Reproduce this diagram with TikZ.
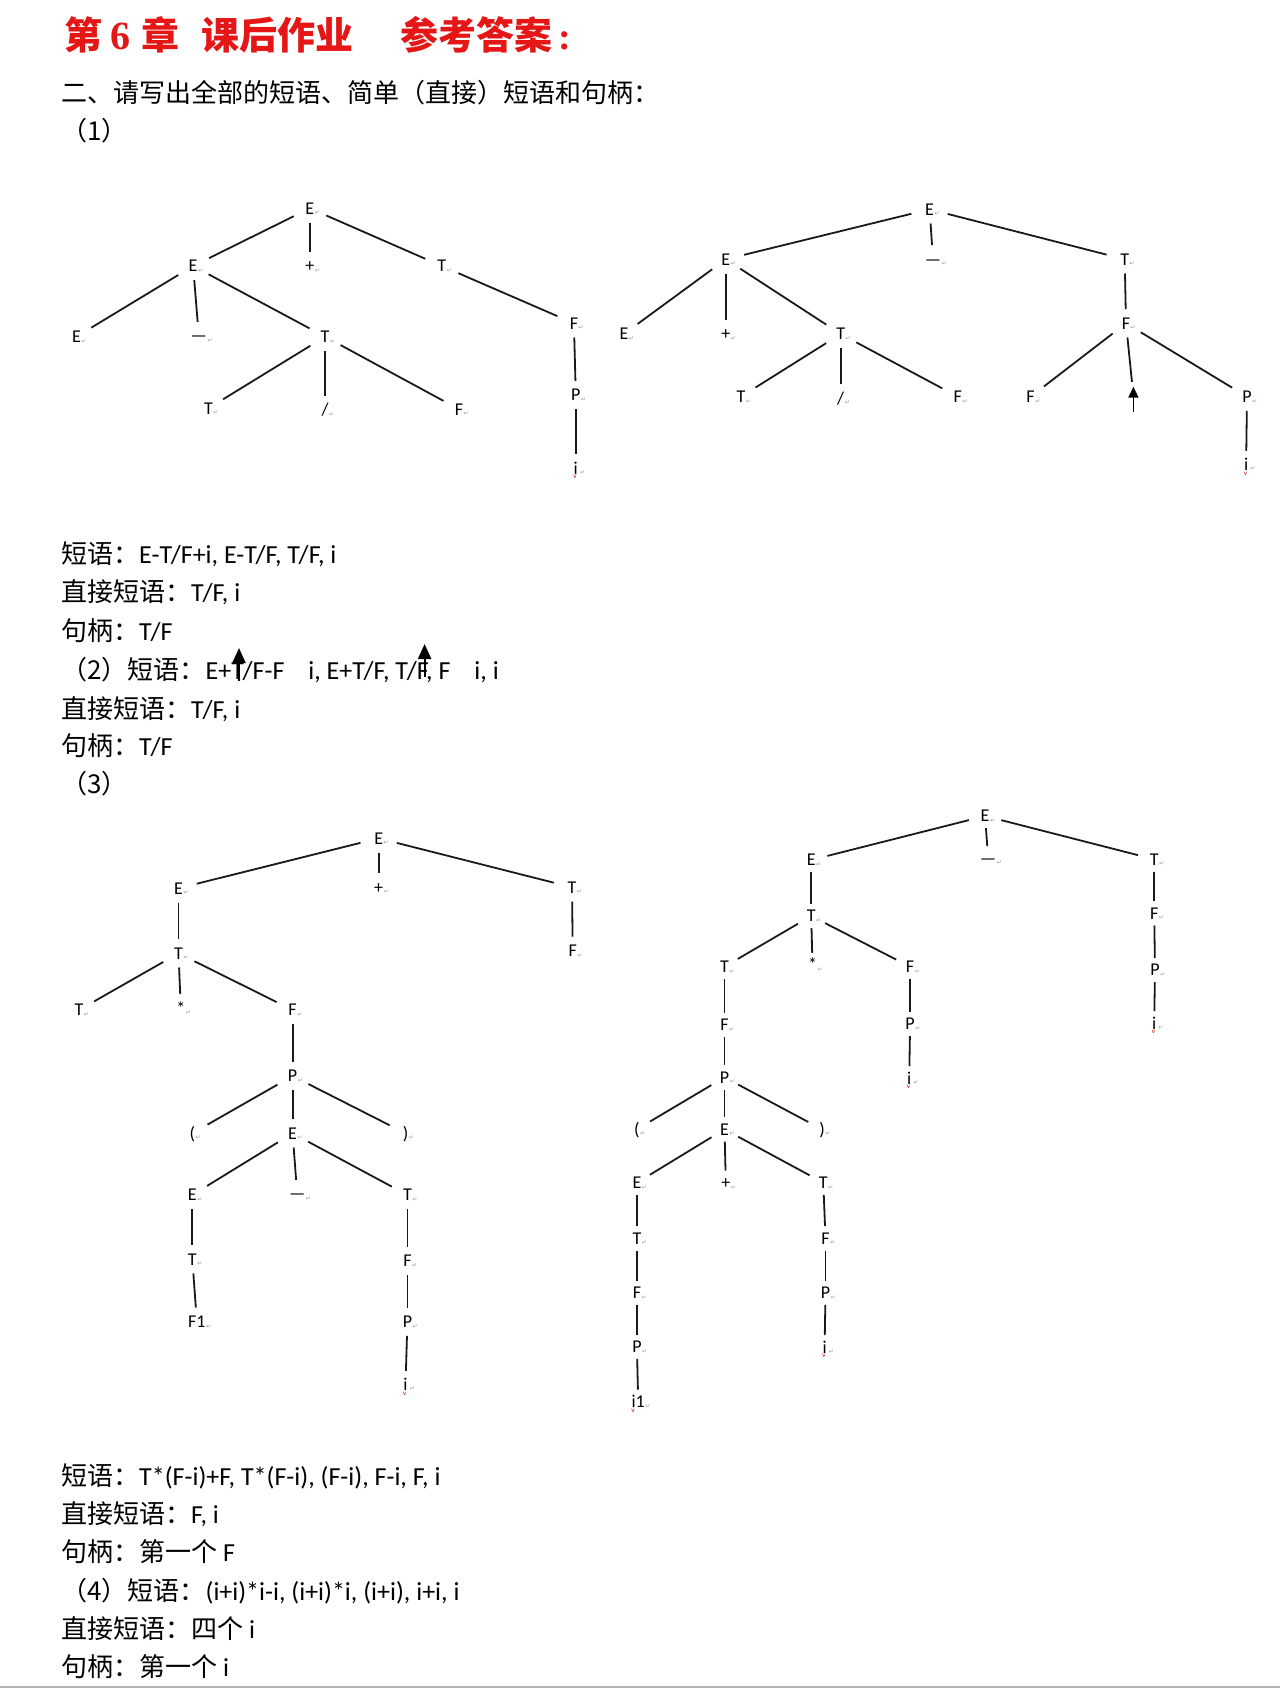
\documentclass[tikz,border=0pt]{standalone}
\usepackage{fontspec}
\setmainfont{Carlito}
\newfontfamily\cjk{Noto Sans CJK SC}
\newfontfamily\retfont{DejaVu Sans}
\newfontfamily\ttlserif{Liberation Serif}
\usetikzlibrary{arrows.meta,shapes.geometric}
\definecolor{ttlred}{RGB}{228,22,22}
\newcommand{\retmk}{\rlap{\hspace{0.6pt}\raisebox{-0.5pt}{\retfont\fontsize{6}{6}\selectfont\color{black!40}↵}}}
\newcommand{\iretmk}{\rlap{\hspace{2.2pt}\raisebox{0pt}{\retfont\fontsize{6}{6}\selectfont\color{black!40}↵}}}
\newcommand{\redv}{\rlap{\hspace{-4.4pt}\raisebox{-4.5pt}{\fontsize{7}{7}\selectfont\color{red!80!black}v}}}
\begin{document}
\begin{tikzpicture}[x=1pt,y=-1pt,
  tl/.style={ellipse,minimum width=38pt,minimum height=28pt,inner sep=0pt,font=\fontsize{18}{18}\selectfont,text height=11.6pt,text depth=0pt},
  tls/.style={tl,minimum width=34pt,minimum height=24pt},
  ed/.style={line width=1.8pt,color=black!90},
  txt/.style={anchor=base west,inner sep=0pt,font=\fontsize{26}{30}\selectfont},
  ttl/.style={anchor=base west,inner sep=0pt,text=ttlred,font=\fontsize{38}{40}\selectfont\bfseries},
  upar/.style={line width=1.7pt,-{Triangle[length=11pt,width=10pt]}},
  uparb/.style={line width=2.2pt,-{Triangle[length=15pt,width=13pt]}},
]
\fill[white] (0,0) rectangle (1280,1689);
\useasboundingbox (0,0) rectangle (1280,1689);
\draw[black!30,line width=2pt] (0,1687) -- (1280,1687);

% ---------- title ----------
\node[ttl] (t1) at (64,49) {\cjk 第};
\node[ttl,font=\fontsize{40}{40}\selectfont\bfseries] (t2) at (110,49) {\ttlserif 6};
\node[ttl] (t3) at (141,49) {\cjk 章};
\node[ttl] (t4) at (201,49) {\cjk 课后作业};
\node[ttl] (t5) at (400,49) {\cjk 参考答案\ttlserif\hspace{6pt}:};

% ---------- text lines ----------
\node[txt] (l1) at (61,102) {\cjk 二、请写出全部的短语、简单（直接）短语和句柄：};
\node[txt] (l2) at (61,140.5) {\cjk （1）};
\node[txt] (l3) at (61,563) {{\cjk 短语：}E-T/F+i, E-T/F, T/F, i};
\node[txt] (l4) at (61,601.6) {{\cjk 直接短语：}T/F, i};
\node[txt] (l5) at (61,640.4) {{\cjk 句柄：}T/F};
\node[txt] (l6) at (61,679) {{\cjk （2）短语：}E+T/F-F\hspace{24pt}i, E+T/F, T/F, F\hspace{24pt}i, i};
\node[txt] (l7) at (61,718) {{\cjk 直接短语：}T/F, i};
\node[txt] (l8) at (61,755.6) {{\cjk 句柄：}T/F};
\node[txt] (l9) at (61,793.3) {\cjk （3）};
\node[txt] (l10) at (61,1485) {{\cjk 短语：}T*(F-i)+F, T*(F-i), (F-i), F-i, F, i};
\node[txt] (l11) at (61,1523.8) {{\cjk 直接短语：}F, i};
\node[txt] (l12) at (61,1561.5) {{\cjk 句柄：第一个} F};
\node[txt] (l13) at (61,1600.3) {{\cjk （4）短语：}(i+i)*i-i, (i+i)*i, (i+i), i+i, i};
\node[txt] (l14) at (61,1638) {{\cjk 直接短语：四个} i};
\node[txt] (l15) at (61,1676.8) {{\cjk 句柄：第一个} i};

\coordinate (ua1) at (239,681); \coordinate (ub1) at (239,648);
\coordinate (ua2) at (424.6,677); \coordinate (ub2) at (424.6,644);
\draw[uparb] (ua1) -- (ub1);
\draw[uparb] (ua2) -- (ub2);

% ---------- tree 1 ----------
\node[tl] (a0) at (309.8,208.3) {E\retmk};
\node[tl] (a1) at (193.1,266) {E\retmk};
\node[tl] (a2) at (309.8,266) {+\retmk};
\node[tl] (a3) at (441.8,266) {T\retmk};
\node[tl] (a4) at (76.4,336.7) {E\retmk};
\node[tl] (a5) at (198.8,336) {—\retmk};
\node[tl] (a6) at (325.1,336.7) {T\retmk};
\node[tl] (a7) at (573.9,323.3) {F\retmk};
\node[tl] (a8) at (208.4,408.3) {T\retmk};
\node[tl] (a9) at (325.1,410) {/\retmk};
\node[tl] (a10) at (459,409.3) {F\retmk};
\node[tl] (a11) at (575.8,395) {P\retmk};
\node[tl] (a12) at (575.8,468.3) {i\redv\iretmk};
\foreach \u/\v in {a0/a1,a0/a2,a0/a3,a1/a4,a1/a5,a1/a6,a3/a7,a6/a8,a6/a9,a6/a10,a7/a11,a11/a12}
  \draw[ed] (\u) -- (\v);

% ---------- tree 2 ----------
\node[tl] (b0) at (929.6,209.3) {E\retmk};
\node[tl] (b1) at (725.8,259.3) {E\retmk};
\node[tl] (b2) at (933,259.3) {—\retmk};
\node[tl] (b3) at (1124.7,259.3) {T\retmk};
\node[tl] (b4) at (623.9,334) {E\retmk};
\node[tl] (b5) at (725.8,334) {+\retmk};
\node[tl] (b6) at (840.7,334) {T\retmk};
\node[tl] (b7) at (1126,323.3) {F\retmk};
\node[tl] (b8) at (740.9,396.7) {T\retmk};
\node[tl] (b9) at (840.7,398.3) {/\retmk};
\node[tl] (b10) at (957.8,396.7) {F\retmk};
\node[tl] (b11) at (1030.6,396.7) {F\retmk};
\node[tl] (b12) at (1133.4,396) {};
\node[tl] (b13) at (1247,396.7) {P\retmk};
\node[tl] (b14) at (1246.1,465) {i\redv\iretmk};
\coordinate (ua3) at (1133.4,411.7); \coordinate (ub3) at (1133.4,386.7);
\draw[upar] (ua3) -- (ub3);
\foreach \u/\v in {b0/b1,b0/b2,b0/b3,b3/b7,b1/b4,b1/b5,b1/b6,b6/b8,b6/b9,b6/b10,b7/b11,b7/b12,b7/b13,b13/b14}
  \draw[ed] (\u) -- (\v);

% ---------- tree 3 ----------
\node[tl] (c0) at (378.7,838.3) {E\retmk};
\node[tl] (c1) at (178.5,888.3) {E\retmk};
\node[tl] (c2) at (378.7,887.3) {+\retmk};
\node[tl] (c3) at (572,887.3) {T\retmk};
\node[tl] (c4) at (572.7,950.7) {F\retmk};
\node[tl] (c5) at (178.5,953.3) {T\retmk};
\node[tl] (c6) at (79,1010) {T\retmk};
\node[tl] (c7) at (180.8,1008.3) {*\retmk};
\node[tl] (c8) at (292.6,1010) {F\retmk};
\node[tl] (c9) at (292.6,1076) {P\retmk};
\node[tl] (c10) at (192.3,1133.3) {(\retmk};
\node[tl] (c11) at (292.6,1133.3) {E\retmk};
\node[tl] (c12) at (405.5,1133.3) {)\retmk};
\node[tl] (c13) at (192.3,1195) {E\retmk};
\node[tl] (c14) at (297.2,1194) {—\retmk};
\node[tl] (c15) at (407.4,1195) {T\retmk};
\node[tl] (c16) at (192.3,1259.3) {T\retmk};
\node[tl] (c17) at (407.4,1260.7) {F\retmk};
\node[tl] (c18) at (196.9,1321.7) {F1\retmk};
\node[tl] (c19) at (407.4,1321.7) {P\retmk};
\node[tl] (c20) at (405.5,1385) {i\redv\iretmk};
\foreach \u/\v in {c0/c1,c0/c2,c0/c3,c3/c4,c1/c5,c5/c6,c5/c7,c5/c8,c8/c9,c9/c10,c9/c11,c9/c12,c11/c13,c11/c14,c11/c15,c13/c16,c16/c18,c15/c17,c17/c19,c19/c20}
  \draw[ed] (\u) -- (\v);

% ---------- tree 4 ----------
\node[tls] (d0) at (985.1,816) {E\retmk};
\node[tls] (d1) at (811.2,860) {E\retmk};
\node[tls] (d2) at (988.1,858.3) {—\retmk};
\node[tls] (d3) at (1154.2,859.3) {T\retmk};
\node[tls] (d4) at (811.2,916) {T\retmk};
\node[tls] (d5) at (1154.2,913.3) {F\retmk};
\node[tls] (d6) at (724.5,966.7) {T\retmk};
\node[tls] (d7) at (812.5,965) {*\retmk};
\node[tls] (d8) at (910.1,966.7) {F\retmk};
\node[tls] (d9) at (1155,970) {P\retmk};
\node[tls] (d10) at (724.5,1025) {F\retmk};
\node[tls] (d11) at (910.1,1024) {P\retmk};
\node[tls] (d12) at (1154.2,1023.3) {i\redv\iretmk};
\node[tls] (d13) at (724.5,1077.3) {P\retmk};
\node[tls] (d14) at (909.2,1078.3) {i\redv\iretmk};
\node[tls] (d15) at (636.9,1129.3) {(\retmk};
\node[tls] (d16) at (724.5,1129.3) {E\retmk};
\node[tls] (d17) at (822,1129.3) {)\retmk};
\node[tls] (d18) at (636.9,1182.7) {E\retmk};
\node[tls] (d19) at (725.8,1182.7) {+\retmk};
\node[tls] (d20) at (823.3,1182.7) {T\retmk};
\node[tls] (d21) at (636.9,1238.3) {T\retmk};
\node[tls] (d22) at (825.5,1238.3) {F\retmk};
\node[tls] (d23) at (636.9,1292.7) {F\retmk};
\node[tls] (d24) at (825.5,1292.7) {P\retmk};
\node[tls] (d25) at (636.9,1346.7) {P\retmk};
\node[tls] (d26) at (824.6,1347.3) {i\redv\iretmk};
\node[tls] (d27) at (638.2,1401.7) {i\redv 1\retmk};
\foreach \u/\v in {d0/d1,d0/d2,d0/d3,d1/d4,d3/d5,d4/d6,d4/d7,d4/d8,d5/d9,d6/d10,d8/d11,d9/d12,d10/d13,d11/d14,d13/d15,d13/d16,d13/d17,d16/d18,d16/d19,d16/d20,d18/d21,d20/d22,d21/d23,d22/d24,d23/d25,d24/d26,d25/d27}
  \draw[ed] (\u) -- (\v);
\end{tikzpicture}
\end{document}
